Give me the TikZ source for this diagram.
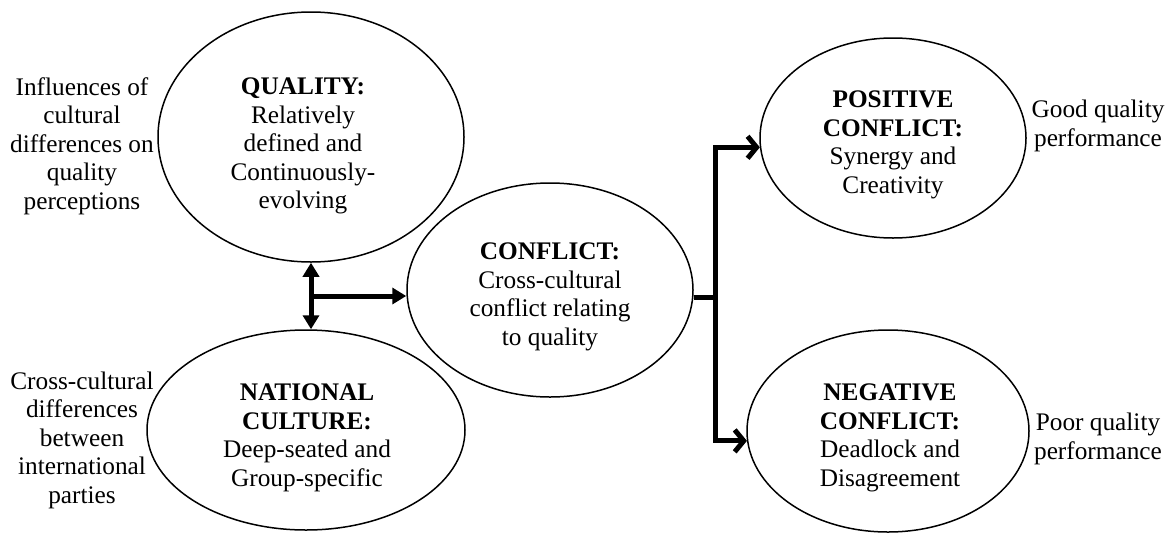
\documentclass[tikz,border=0pt]{standalone}
\usepackage{fontspec}
\setmainfont{Liberation Serif}
\usetikzlibrary{shapes.geometric,arrows.meta,calc}
\begin{document}
\begin{tikzpicture}[x=1pt,y=-1pt,
  txt/.style={align=center,font=\fontsize{25.3}{28.5}\selectfont},
  oval/.style={ellipse,draw,line width=1.5pt,inner sep=0pt},
  thick arrow/.style={line width=5pt},
  solid head/.style={-{Triangle[length=14pt,width=16pt]}},
  both heads/.style={{Triangle[length=14pt,width=16pt]}-{Triangle[length=14pt,width=16pt]}},
  open head/.style={-{Straight Barb[length=9pt,width=22pt]}}]
\useasboundingbox (0,0) rectangle (1174,533);

% central ovals
\node[oval,minimum width=306pt,minimum height=250pt] (qual) at (311,137) {};
\node[oval,minimum width=318pt,minimum height=200pt] (nat) at (306,430) {};
\node[oval,minimum width=286pt,minimum height=214pt] (conf) at (550,290) {};
\node[oval,minimum width=266pt,minimum height=200pt] (pos) at (893,138) {};
\node[oval,minimum width=282pt,minimum height=202pt] (neg) at (888,431) {};

% oval contents
\node[txt] (qualtxt) at (303,146)
  {\textbf{QUALITY:}\\Relatively\\defined and\\Continuously-\\evolving};
\node[txt] (nattxt) at (307,438)
  {\textbf{NATIONAL}\\\textbf{CULTURE:}\\Deep-seated and\\Group-specific};
\node[txt] (conftxt) at (550,297)
  {\textbf{CONFLICT:}\\Cross-cultural\\conflict relating\\to quality};
\node[txt] (postxt) at (893,145)
  {\textbf{POSITIVE}\\\textbf{CONFLICT:}\\Synergy and\\Creativity};
\node[txt] (negtxt) at (890,438)
  {\textbf{NEGATIVE}\\\textbf{CONFLICT:}\\Deadlock and\\Disagreement};

% side captions
\node[txt] (capq) at (82,146)
  {Influences of\\cultural\\differences on\\quality\\perceptions};
\node[txt] (capn) at (82,440)
  {Cross-cultural\\differences\\between\\international\\parties};
\node[txt] (capp) at (1098,126) {Good quality\\performance};
\node[txt] (capg) at (1098,439) {Poor quality\\performance};

% quality <-> culture, feeding conflict
\coordinate (vbot) at (qual.south |- nat.north);
\coordinate (mid) at ($(qual.south)!0.5!(vbot)$);
\draw[thick arrow,both heads] (qual.south) -- (vbot);
\draw[thick arrow,solid head] (mid) -- (mid -| conf.west);

% conflict branching to outcomes
\coordinate (jmid) at (715,297);
\draw[thick arrow] (jmid -| conf.east) -- (jmid);
\draw[thick arrow,open head,line join=miter] (jmid) |- (pos.184);
\draw[thick arrow,open head,line join=miter] (jmid) |- (neg.184.5);
\end{tikzpicture}
\end{document}
